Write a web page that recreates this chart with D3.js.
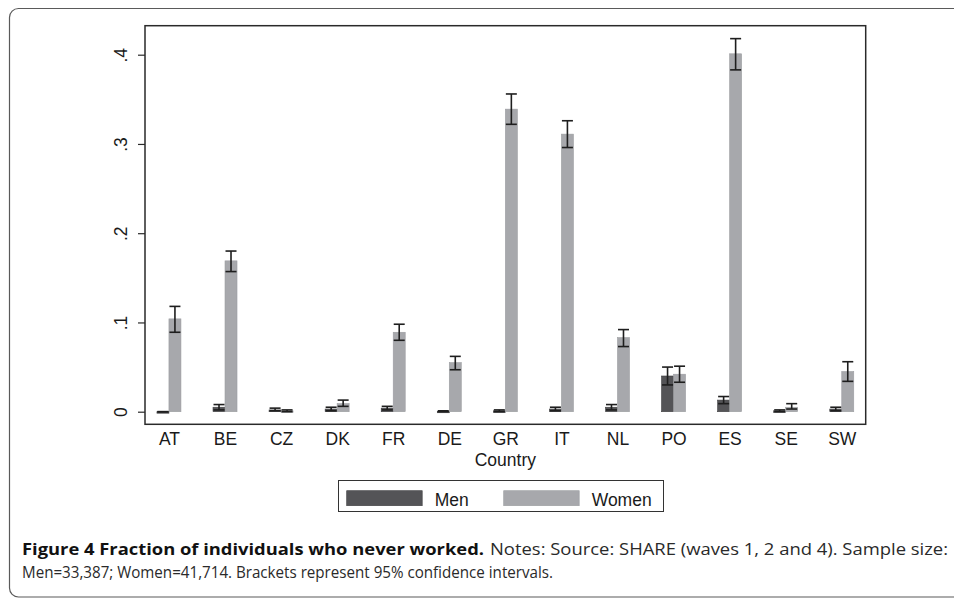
<!DOCTYPE html>
<html><head><meta charset="utf-8">
<script src="https://cdn.jsdelivr.net/npm/d3@7"></script>
<style>
html,body{margin:0;padding:0;background:#fff;}
svg{display:block;}
</style></head>
<body>
<svg id="c" width="954" height="599"></svg>
<script>
const countries = ["AT","BE","CZ","DK","FR","DE","GR","IT","NL","PO","ES","SE","SW"];
const menValues   = [0.000,0.005,0.002,0.003,0.004,0.0005,0.001,0.003,0.005,0.040,0.013,0.001,0.003];
const menLow      = [0.000,0.002,0.001,0.001,0.002,0.000,0.000,0.001,0.002,0.030,0.009,0.000,0.001];
const menHigh     = [0.000,0.008,0.004,0.005,0.006,0.001,0.002,0.005,0.008,0.050,0.017,0.002,0.005];
const womenValues = [0.104,0.169,0.001,0.009,0.089,0.055,0.339,0.311,0.083,0.042,0.401,0.005,0.045];
const womenLow    = [0.089,0.157,0.000,0.006,0.080,0.047,0.322,0.296,0.073,0.033,0.383,0.003,0.034];
const womenHigh   = [0.118,0.180,0.002,0.013,0.098,0.062,0.356,0.326,0.092,0.051,0.418,0.009,0.056];
const yTicks = [0, 0.1, 0.2, 0.3, 0.4];
const yTickLabels = ["0", ".1", ".2", ".3", ".4"];
const seriesNames = ["Men", "Women"];
const seriesColors = ["#545457", "#a7a8ac"];
const xTitle = "Country";

const svg = d3.select("#c");
const font = "'Liberation Sans', Arial, Helvetica, sans-serif";

// outer frame
svg.append("rect").attr("x", 9.5).attr("y", 8.5).attr("width", 1100).attr("height", 588.5)
  .attr("rx", 9).attr("fill", "none").attr("stroke", "#5a5a5a").attr("stroke-width", 1.2);

const box = {left: 145, right: 865.7, top: 25.7, bottom: 424.3};
const x = d3.scalePoint().domain(countries).range([box.left, box.right]).padding(0.427);
const sub = d3.scaleBand().domain(seriesNames).range([-12, 12]);
const y = d3.scaleLinear().domain([0, 0.4]).range([411.7, 54.7]);

// bars
const series = [
  {name: "Men", v: menValues, lo: menLow, hi: menHigh},
  {name: "Women", v: womenValues, lo: womenLow, hi: womenHigh}
];
series.forEach((s, si) => {
  const g = svg.append("g");
  g.selectAll("rect").data(countries).join("rect")
    .attr("x", (c) => x(c) + sub(s.name))
    .attr("width", sub.bandwidth())
    .attr("y", (c, i) => y(s.v[i]))
    .attr("height", (c, i) => Math.max(1.5, y(0) - y(s.v[i])))
    .attr("fill", seriesColors[si])
    .attr("stroke", si === 0 ? "#3e3e40" : "#9c9da1")
    .attr("stroke-width", 0.6);
});
// error bars
series.forEach((s) => {
  const g = svg.append("g").attr("stroke", "#1e1e1e").attr("stroke-width", 1.6).attr("fill", "none");
  countries.forEach((c, i) => {
    const cx = x(c) + sub(s.name) + sub.bandwidth() / 2;
    const y1 = y(s.lo[i]), y2 = y(s.hi[i]);
    g.append("line").attr("x1", cx).attr("x2", cx).attr("y1", y1).attr("y2", y2);
    g.append("line").attr("x1", cx - 5.5).attr("x2", cx + 5.5).attr("y1", y1).attr("y2", y1);
    g.append("line").attr("x1", cx - 5.5).attr("x2", cx + 5.5).attr("y1", y2).attr("y2", y2);
  });
});

// plot box
svg.append("rect").attr("x", box.left).attr("y", box.top)
  .attr("width", box.right - box.left).attr("height", box.bottom - box.top)
  .attr("fill", "none").attr("stroke", "#2a2a2a").attr("stroke-width", 1.5);

// y axis
const yAxis = d3.axisLeft(y).tickValues(yTicks).tickSize(7).tickPadding(11)
  .tickFormat((d, i) => yTickLabels[i]);
const ya = svg.append("g").attr("transform", `translate(${box.left},0)`).call(yAxis);
ya.select(".domain").remove();
ya.selectAll(".tick line").attr("stroke", "#2a2a2a").attr("stroke-width", 1.2);
ya.selectAll(".tick text")
  .attr("x", null).attr("dy", null)
  .attr("transform", "translate(-18,0) rotate(-90)")
  .attr("text-anchor", "middle")
  .attr("font-family", font).attr("font-size", 17.5).attr("fill", "#1a1a1a");

// x axis
const xAxis = d3.axisBottom(x).tickSize(0).tickPadding(8);
const xa = svg.append("g").attr("transform", `translate(0,${box.bottom})`).call(xAxis);
xa.select(".domain").remove();
xa.selectAll(".tick text").attr("font-family", font).attr("font-size", 17.5).attr("fill", "#1a1a1a");

svg.append("text").attr("x", (box.left + box.right) / 2).attr("y", 466)
  .attr("text-anchor", "middle").attr("font-family", font).attr("font-size", 17.5)
  .attr("fill", "#1a1a1a").text(xTitle);

// legend
const lg = svg.append("g");
lg.append("rect").attr("x", 338.5).attr("y", 480.5).attr("width", 325).attr("height", 31)
  .attr("fill", "#fff").attr("stroke", "#333").attr("stroke-width", 1);
const legendX = [346.7, 503.7];
seriesNames.forEach((n, i) => {
  lg.append("rect").attr("x", legendX[i]).attr("y", 490.7).attr("width", 75.5).attr("height", 15)
    .attr("fill", seriesColors[i]).attr("stroke", i === 0 ? "#3e3e40" : "#9c9da1").attr("stroke-width", 0.6);
  lg.append("text").attr("x", legendX[i] + 88).attr("y", 506)
    .attr("font-family", font).attr("font-size", 17.5).attr("fill", "#1a1a1a").text(n);
});

// caption
const cap = svg.append("g").attr("font-family", "'Open Sans', 'Noto Sans', sans-serif").attr("fill", "#2a2a2a");
cap.append("text").attr("x", 22).attr("y", 555).attr("font-size", 15.5).attr("font-weight", "bold")
  .attr("fill", "#111").attr("textLength", 462).attr("lengthAdjust", "spacingAndGlyphs")
  .text("Figure 4 Fraction of individuals who never worked.");
cap.append("text").attr("x", 490).attr("y", 555).attr("font-size", 16)
  .attr("textLength", 458).attr("lengthAdjust", "spacingAndGlyphs")
  .text("Notes: Source: SHARE (waves 1, 2 and 4). Sample size:");
cap.append("text").attr("x", 22).attr("y", 577.5).attr("font-size", 16)
  .attr("textLength", 531).attr("lengthAdjust", "spacingAndGlyphs")
  .text("Men=33,387; Women=41,714. Brackets represent 95% confidence intervals.");
</script>
</body></html>
